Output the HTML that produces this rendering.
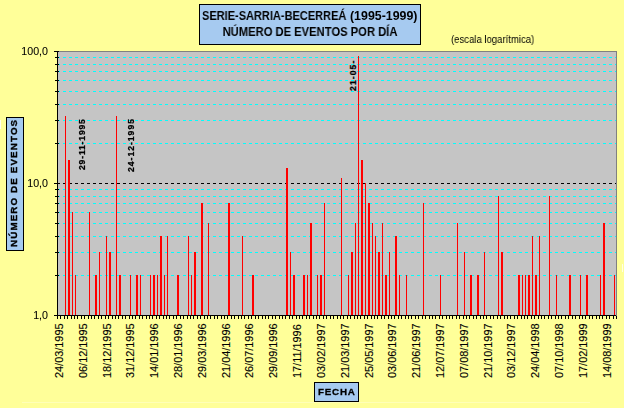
<!DOCTYPE html><html><head><meta charset="utf-8"><title>chart</title><style>
html,body{margin:0;padding:0;}
body{width:624px;height:408px;overflow:hidden;position:relative;background:#FFFF99;font-family:"Liberation Sans",sans-serif;color:#000;}
.t{position:absolute;white-space:nowrap;line-height:1;will-change:transform;}
.xl{position:absolute;white-space:nowrap;line-height:1;font-size:10.9px;-webkit-text-stroke:0.12px #000;transform-origin:0 0;transform:rotate(-90deg);}
.yl{font-size:10.67px;-webkit-text-stroke:0.08px #000;text-align:right;width:40px;left:8px;}
.box{position:absolute;background:#A6CAF0;border:1px solid #000;box-sizing:border-box;}
.dl{position:absolute;white-space:nowrap;line-height:1;font-weight:bold;font-size:8.6px;letter-spacing:0.9px;-webkit-text-stroke:0.25px #000;transform-origin:0 0;transform:rotate(-90deg);}

</style></head><body>
<svg width="624" height="408" viewBox="0 0 624 408" style="position:absolute;left:0;top:0" shape-rendering="crispEdges"><rect x="0" y="0" width="624" height="408" fill="#FFFF99"/><rect x="58" y="51" width="559" height="265" fill="#C5C5C5"/><rect x="58" y="51" width="559" height="1" fill="#808080"/><rect x="616" y="51" width="1" height="265" fill="#808080"/><line x1="59" y1="275.5" x2="616" y2="275.5" stroke="#00FFFF" stroke-width="1" stroke-dasharray="3 3" stroke-dashoffset="2"/><line x1="59" y1="252.5" x2="616" y2="252.5" stroke="#00FFFF" stroke-width="1" stroke-dasharray="3 3" stroke-dashoffset="2"/><line x1="59" y1="236.5" x2="616" y2="236.5" stroke="#00FFFF" stroke-width="1" stroke-dasharray="3 3" stroke-dashoffset="2"/><line x1="59" y1="223.5" x2="616" y2="223.5" stroke="#00FFFF" stroke-width="1" stroke-dasharray="3 3" stroke-dashoffset="2"/><line x1="59" y1="212.5" x2="616" y2="212.5" stroke="#00FFFF" stroke-width="1" stroke-dasharray="3 3" stroke-dashoffset="2"/><line x1="59" y1="203.5" x2="616" y2="203.5" stroke="#00FFFF" stroke-width="1" stroke-dasharray="3 3" stroke-dashoffset="2"/><line x1="59" y1="196.5" x2="616" y2="196.5" stroke="#00FFFF" stroke-width="1" stroke-dasharray="3 3" stroke-dashoffset="2"/><line x1="59" y1="189.5" x2="616" y2="189.5" stroke="#00FFFF" stroke-width="1" stroke-dasharray="3 3" stroke-dashoffset="2"/><line x1="59" y1="143.5" x2="616" y2="143.5" stroke="#00FFFF" stroke-width="1" stroke-dasharray="3 3" stroke-dashoffset="2"/><line x1="59" y1="120.5" x2="616" y2="120.5" stroke="#00FFFF" stroke-width="1" stroke-dasharray="3 3" stroke-dashoffset="2"/><line x1="59" y1="104.5" x2="616" y2="104.5" stroke="#00FFFF" stroke-width="1" stroke-dasharray="3 3" stroke-dashoffset="2"/><line x1="59" y1="91.5" x2="616" y2="91.5" stroke="#00FFFF" stroke-width="1" stroke-dasharray="3 3" stroke-dashoffset="2"/><line x1="59" y1="80.5" x2="616" y2="80.5" stroke="#00FFFF" stroke-width="1" stroke-dasharray="3 3" stroke-dashoffset="2"/><line x1="59" y1="71.5" x2="616" y2="71.5" stroke="#00FFFF" stroke-width="1" stroke-dasharray="3 3" stroke-dashoffset="2"/><line x1="59" y1="64.5" x2="616" y2="64.5" stroke="#00FFFF" stroke-width="1" stroke-dasharray="3 3" stroke-dashoffset="2"/><line x1="59" y1="57.5" x2="616" y2="57.5" stroke="#00FFFF" stroke-width="1" stroke-dasharray="3 3" stroke-dashoffset="2"/><line x1="59" y1="183.5" x2="616" y2="183.5" stroke="#000000" stroke-width="1" stroke-dasharray="3 3" stroke-dashoffset="2"/><rect x="65" y="116" width="1" height="199" fill="#FF0000"/><rect x="68" y="160" width="2" height="155" fill="#FF0000"/><rect x="72" y="212" width="1" height="103" fill="#FF0000"/><rect x="75" y="275" width="1" height="40" fill="#FF0000"/><rect x="89" y="212" width="1" height="103" fill="#FF0000"/><rect x="95" y="275" width="2" height="40" fill="#FF0000"/><rect x="99" y="252" width="1" height="63" fill="#FF0000"/><rect x="106" y="236" width="1" height="79" fill="#FF0000"/><rect x="109" y="252" width="2" height="63" fill="#FF0000"/><rect x="116" y="116" width="1" height="199" fill="#FF0000"/><rect x="119" y="275" width="2" height="40" fill="#FF0000"/><rect x="130" y="275" width="1" height="40" fill="#FF0000"/><rect x="136" y="275" width="2" height="40" fill="#FF0000"/><rect x="140" y="275" width="1" height="40" fill="#FF0000"/><rect x="150" y="275" width="1" height="40" fill="#FF0000"/><rect x="153" y="275" width="2" height="40" fill="#FF0000"/><rect x="157" y="275" width="1" height="40" fill="#FF0000"/><rect x="160" y="236" width="2" height="79" fill="#FF0000"/><rect x="164" y="275" width="1" height="40" fill="#FF0000"/><rect x="167" y="236" width="1" height="79" fill="#FF0000"/><rect x="177" y="275" width="2" height="40" fill="#FF0000"/><rect x="188" y="236" width="1" height="79" fill="#FF0000"/><rect x="191" y="275" width="1" height="40" fill="#FF0000"/><rect x="194" y="252" width="2" height="63" fill="#FF0000"/><rect x="201" y="203" width="2" height="112" fill="#FF0000"/><rect x="208" y="223" width="1" height="92" fill="#FF0000"/><rect x="228" y="203" width="2" height="112" fill="#FF0000"/><rect x="242" y="236" width="1" height="79" fill="#FF0000"/><rect x="252" y="275" width="2" height="40" fill="#FF0000"/><rect x="286" y="168" width="2" height="147" fill="#FF0000"/><rect x="290" y="252" width="1" height="63" fill="#FF0000"/><rect x="293" y="275" width="2" height="40" fill="#FF0000"/><rect x="303" y="275" width="2" height="40" fill="#FF0000"/><rect x="307" y="275" width="1" height="40" fill="#FF0000"/><rect x="310" y="223" width="2" height="92" fill="#FF0000"/><rect x="317" y="275" width="1" height="40" fill="#FF0000"/><rect x="320" y="275" width="2" height="40" fill="#FF0000"/><rect x="324" y="203" width="1" height="112" fill="#FF0000"/><rect x="341" y="178" width="1" height="137" fill="#FF0000"/><rect x="348" y="275" width="1" height="40" fill="#FF0000"/><rect x="351" y="252" width="2" height="63" fill="#FF0000"/><rect x="355" y="223" width="1" height="92" fill="#FF0000"/><rect x="358" y="56" width="1" height="259" fill="#FF0000"/><rect x="361" y="160" width="2" height="155" fill="#FF0000"/><rect x="365" y="183" width="1" height="132" fill="#FF0000"/><rect x="368" y="203" width="2" height="112" fill="#FF0000"/><rect x="372" y="223" width="1" height="92" fill="#FF0000"/><rect x="375" y="236" width="1" height="79" fill="#FF0000"/><rect x="378" y="252" width="2" height="63" fill="#FF0000"/><rect x="382" y="223" width="1" height="92" fill="#FF0000"/><rect x="385" y="275" width="2" height="40" fill="#FF0000"/><rect x="389" y="252" width="1" height="63" fill="#FF0000"/><rect x="395" y="236" width="2" height="79" fill="#FF0000"/><rect x="399" y="275" width="1" height="40" fill="#FF0000"/><rect x="406" y="275" width="1" height="40" fill="#FF0000"/><rect x="423" y="203" width="1" height="112" fill="#FF0000"/><rect x="440" y="275" width="1" height="40" fill="#FF0000"/><rect x="457" y="223" width="1" height="92" fill="#FF0000"/><rect x="464" y="252" width="1" height="63" fill="#FF0000"/><rect x="470" y="275" width="2" height="40" fill="#FF0000"/><rect x="477" y="275" width="2" height="40" fill="#FF0000"/><rect x="484" y="252" width="1" height="63" fill="#FF0000"/><rect x="498" y="196" width="1" height="119" fill="#FF0000"/><rect x="501" y="252" width="2" height="63" fill="#FF0000"/><rect x="518" y="275" width="2" height="40" fill="#FF0000"/><rect x="522" y="275" width="1" height="40" fill="#FF0000"/><rect x="525" y="275" width="1" height="40" fill="#FF0000"/><rect x="528" y="275" width="2" height="40" fill="#FF0000"/><rect x="532" y="236" width="1" height="79" fill="#FF0000"/><rect x="535" y="275" width="2" height="40" fill="#FF0000"/><rect x="539" y="236" width="1" height="79" fill="#FF0000"/><rect x="549" y="196" width="1" height="119" fill="#FF0000"/><rect x="556" y="275" width="1" height="40" fill="#FF0000"/><rect x="569" y="275" width="2" height="40" fill="#FF0000"/><rect x="580" y="275" width="1" height="40" fill="#FF0000"/><rect x="586" y="275" width="2" height="40" fill="#FF0000"/><rect x="600" y="275" width="1" height="40" fill="#FF0000"/><rect x="603" y="223" width="2" height="92" fill="#FF0000"/><rect x="614" y="275" width="1" height="40" fill="#FF0000"/><rect x="57" y="51" width="1" height="265" fill="#000"/><rect x="54" y="315" width="562" height="1" fill="#000"/><rect x="54" y="315" width="5" height="1" fill="#000"/><rect x="55" y="275" width="4" height="1" fill="#000"/><rect x="55" y="252" width="4" height="1" fill="#000"/><rect x="55" y="236" width="4" height="1" fill="#000"/><rect x="55" y="223" width="4" height="1" fill="#000"/><rect x="55" y="212" width="4" height="1" fill="#000"/><rect x="55" y="203" width="4" height="1" fill="#000"/><rect x="55" y="196" width="4" height="1" fill="#000"/><rect x="55" y="189" width="4" height="1" fill="#000"/><rect x="54" y="183" width="5" height="1" fill="#000"/><rect x="55" y="143" width="4" height="1" fill="#000"/><rect x="55" y="120" width="4" height="1" fill="#000"/><rect x="55" y="104" width="4" height="1" fill="#000"/><rect x="55" y="91" width="4" height="1" fill="#000"/><rect x="55" y="80" width="4" height="1" fill="#000"/><rect x="55" y="71" width="4" height="1" fill="#000"/><rect x="55" y="64" width="4" height="1" fill="#000"/><rect x="55" y="57" width="4" height="1" fill="#000"/><rect x="54" y="51" width="5" height="1" fill="#000"/><rect x="57" y="315" width="1" height="4" fill="#000"/><rect x="60" y="315" width="1" height="4" fill="#000"/><rect x="64" y="315" width="1" height="4" fill="#000"/><rect x="67" y="315" width="1" height="4" fill="#000"/><rect x="71" y="315" width="1" height="4" fill="#000"/><rect x="74" y="315" width="1" height="4" fill="#000"/><rect x="77" y="315" width="1" height="4" fill="#000"/><rect x="81" y="315" width="1" height="4" fill="#000"/><rect x="84" y="315" width="1" height="4" fill="#000"/><rect x="88" y="315" width="1" height="4" fill="#000"/><rect x="91" y="315" width="1" height="4" fill="#000"/><rect x="94" y="315" width="1" height="4" fill="#000"/><rect x="98" y="315" width="1" height="4" fill="#000"/><rect x="101" y="315" width="1" height="4" fill="#000"/><rect x="105" y="315" width="1" height="4" fill="#000"/><rect x="108" y="315" width="1" height="4" fill="#000"/><rect x="112" y="315" width="1" height="4" fill="#000"/><rect x="115" y="315" width="1" height="4" fill="#000"/><rect x="118" y="315" width="1" height="4" fill="#000"/><rect x="122" y="315" width="1" height="4" fill="#000"/><rect x="125" y="315" width="1" height="4" fill="#000"/><rect x="129" y="315" width="1" height="4" fill="#000"/><rect x="132" y="315" width="1" height="4" fill="#000"/><rect x="135" y="315" width="1" height="4" fill="#000"/><rect x="139" y="315" width="1" height="4" fill="#000"/><rect x="142" y="315" width="1" height="4" fill="#000"/><rect x="146" y="315" width="1" height="4" fill="#000"/><rect x="149" y="315" width="1" height="4" fill="#000"/><rect x="152" y="315" width="1" height="4" fill="#000"/><rect x="156" y="315" width="1" height="4" fill="#000"/><rect x="159" y="315" width="1" height="4" fill="#000"/><rect x="163" y="315" width="1" height="4" fill="#000"/><rect x="166" y="315" width="1" height="4" fill="#000"/><rect x="169" y="315" width="1" height="4" fill="#000"/><rect x="173" y="315" width="1" height="4" fill="#000"/><rect x="176" y="315" width="1" height="4" fill="#000"/><rect x="180" y="315" width="1" height="4" fill="#000"/><rect x="183" y="315" width="1" height="4" fill="#000"/><rect x="187" y="315" width="1" height="4" fill="#000"/><rect x="190" y="315" width="1" height="4" fill="#000"/><rect x="193" y="315" width="1" height="4" fill="#000"/><rect x="197" y="315" width="1" height="4" fill="#000"/><rect x="200" y="315" width="1" height="4" fill="#000"/><rect x="204" y="315" width="1" height="4" fill="#000"/><rect x="207" y="315" width="1" height="4" fill="#000"/><rect x="210" y="315" width="1" height="4" fill="#000"/><rect x="214" y="315" width="1" height="4" fill="#000"/><rect x="217" y="315" width="1" height="4" fill="#000"/><rect x="221" y="315" width="1" height="4" fill="#000"/><rect x="224" y="315" width="1" height="4" fill="#000"/><rect x="227" y="315" width="1" height="4" fill="#000"/><rect x="231" y="315" width="1" height="4" fill="#000"/><rect x="234" y="315" width="1" height="4" fill="#000"/><rect x="238" y="315" width="1" height="4" fill="#000"/><rect x="241" y="315" width="1" height="4" fill="#000"/><rect x="244" y="315" width="1" height="4" fill="#000"/><rect x="248" y="315" width="1" height="4" fill="#000"/><rect x="251" y="315" width="1" height="4" fill="#000"/><rect x="255" y="315" width="1" height="4" fill="#000"/><rect x="258" y="315" width="1" height="4" fill="#000"/><rect x="262" y="315" width="1" height="4" fill="#000"/><rect x="265" y="315" width="1" height="4" fill="#000"/><rect x="268" y="315" width="1" height="4" fill="#000"/><rect x="272" y="315" width="1" height="4" fill="#000"/><rect x="275" y="315" width="1" height="4" fill="#000"/><rect x="279" y="315" width="1" height="4" fill="#000"/><rect x="282" y="315" width="1" height="4" fill="#000"/><rect x="285" y="315" width="1" height="4" fill="#000"/><rect x="289" y="315" width="1" height="4" fill="#000"/><rect x="292" y="315" width="1" height="4" fill="#000"/><rect x="296" y="315" width="1" height="4" fill="#000"/><rect x="299" y="315" width="1" height="4" fill="#000"/><rect x="302" y="315" width="1" height="4" fill="#000"/><rect x="306" y="315" width="1" height="4" fill="#000"/><rect x="309" y="315" width="1" height="4" fill="#000"/><rect x="313" y="315" width="1" height="4" fill="#000"/><rect x="316" y="315" width="1" height="4" fill="#000"/><rect x="319" y="315" width="1" height="4" fill="#000"/><rect x="323" y="315" width="1" height="4" fill="#000"/><rect x="326" y="315" width="1" height="4" fill="#000"/><rect x="330" y="315" width="1" height="4" fill="#000"/><rect x="333" y="315" width="1" height="4" fill="#000"/><rect x="337" y="315" width="1" height="4" fill="#000"/><rect x="340" y="315" width="1" height="4" fill="#000"/><rect x="343" y="315" width="1" height="4" fill="#000"/><rect x="347" y="315" width="1" height="4" fill="#000"/><rect x="350" y="315" width="1" height="4" fill="#000"/><rect x="354" y="315" width="1" height="4" fill="#000"/><rect x="357" y="315" width="1" height="4" fill="#000"/><rect x="360" y="315" width="1" height="4" fill="#000"/><rect x="364" y="315" width="1" height="4" fill="#000"/><rect x="367" y="315" width="1" height="4" fill="#000"/><rect x="371" y="315" width="1" height="4" fill="#000"/><rect x="374" y="315" width="1" height="4" fill="#000"/><rect x="377" y="315" width="1" height="4" fill="#000"/><rect x="381" y="315" width="1" height="4" fill="#000"/><rect x="384" y="315" width="1" height="4" fill="#000"/><rect x="388" y="315" width="1" height="4" fill="#000"/><rect x="391" y="315" width="1" height="4" fill="#000"/><rect x="394" y="315" width="1" height="4" fill="#000"/><rect x="398" y="315" width="1" height="4" fill="#000"/><rect x="401" y="315" width="1" height="4" fill="#000"/><rect x="405" y="315" width="1" height="4" fill="#000"/><rect x="408" y="315" width="1" height="4" fill="#000"/><rect x="411" y="315" width="1" height="4" fill="#000"/><rect x="415" y="315" width="1" height="4" fill="#000"/><rect x="418" y="315" width="1" height="4" fill="#000"/><rect x="422" y="315" width="1" height="4" fill="#000"/><rect x="425" y="315" width="1" height="4" fill="#000"/><rect x="429" y="315" width="1" height="4" fill="#000"/><rect x="432" y="315" width="1" height="4" fill="#000"/><rect x="435" y="315" width="1" height="4" fill="#000"/><rect x="439" y="315" width="1" height="4" fill="#000"/><rect x="442" y="315" width="1" height="4" fill="#000"/><rect x="446" y="315" width="1" height="4" fill="#000"/><rect x="449" y="315" width="1" height="4" fill="#000"/><rect x="452" y="315" width="1" height="4" fill="#000"/><rect x="456" y="315" width="1" height="4" fill="#000"/><rect x="459" y="315" width="1" height="4" fill="#000"/><rect x="463" y="315" width="1" height="4" fill="#000"/><rect x="466" y="315" width="1" height="4" fill="#000"/><rect x="469" y="315" width="1" height="4" fill="#000"/><rect x="473" y="315" width="1" height="4" fill="#000"/><rect x="476" y="315" width="1" height="4" fill="#000"/><rect x="480" y="315" width="1" height="4" fill="#000"/><rect x="483" y="315" width="1" height="4" fill="#000"/><rect x="486" y="315" width="1" height="4" fill="#000"/><rect x="490" y="315" width="1" height="4" fill="#000"/><rect x="493" y="315" width="1" height="4" fill="#000"/><rect x="497" y="315" width="1" height="4" fill="#000"/><rect x="500" y="315" width="1" height="4" fill="#000"/><rect x="504" y="315" width="1" height="4" fill="#000"/><rect x="507" y="315" width="1" height="4" fill="#000"/><rect x="510" y="315" width="1" height="4" fill="#000"/><rect x="514" y="315" width="1" height="4" fill="#000"/><rect x="517" y="315" width="1" height="4" fill="#000"/><rect x="521" y="315" width="1" height="4" fill="#000"/><rect x="524" y="315" width="1" height="4" fill="#000"/><rect x="527" y="315" width="1" height="4" fill="#000"/><rect x="531" y="315" width="1" height="4" fill="#000"/><rect x="534" y="315" width="1" height="4" fill="#000"/><rect x="538" y="315" width="1" height="4" fill="#000"/><rect x="541" y="315" width="1" height="4" fill="#000"/><rect x="544" y="315" width="1" height="4" fill="#000"/><rect x="548" y="315" width="1" height="4" fill="#000"/><rect x="551" y="315" width="1" height="4" fill="#000"/><rect x="555" y="315" width="1" height="4" fill="#000"/><rect x="558" y="315" width="1" height="4" fill="#000"/><rect x="561" y="315" width="1" height="4" fill="#000"/><rect x="565" y="315" width="1" height="4" fill="#000"/><rect x="568" y="315" width="1" height="4" fill="#000"/><rect x="572" y="315" width="1" height="4" fill="#000"/><rect x="575" y="315" width="1" height="4" fill="#000"/><rect x="579" y="315" width="1" height="4" fill="#000"/><rect x="582" y="315" width="1" height="4" fill="#000"/><rect x="585" y="315" width="1" height="4" fill="#000"/><rect x="589" y="315" width="1" height="4" fill="#000"/><rect x="592" y="315" width="1" height="4" fill="#000"/><rect x="596" y="315" width="1" height="4" fill="#000"/><rect x="599" y="315" width="1" height="4" fill="#000"/><rect x="602" y="315" width="1" height="4" fill="#000"/><rect x="606" y="315" width="1" height="4" fill="#000"/><rect x="609" y="315" width="1" height="4" fill="#000"/><rect x="613" y="315" width="1" height="4" fill="#000"/><rect x="616" y="316" width="1" height="3" fill="#000"/><rect x="22" y="402" width="568" height="1" fill="#FFFFB8"/><rect x="0" y="120" width="1" height="9" fill="#FFFFEE"/><rect x="622" y="264" width="1" height="8" fill="#FFFFE6"/></svg>
<div class="box" style="left:199px;top:4px;width:222px;height:41px;"></div>
<div class="t" style="left:201.5px;top:10.2px;font-weight:bold;font-size:12.2px;transform-origin:0 0;transform:scaleX(0.903);">SERIE-SARRIA-BECERREÁ</div>
<div class="t" style="left:350.2px;top:10.2px;font-weight:bold;font-size:12.2px;transform-origin:0 0;transform:scaleX(1.015);">(1995-1999)</div>
<div class="t" style="left:109.75px;width:400px;text-align:center;top:25.5px;font-weight:bold;font-size:12px;transform:scaleX(0.934);">NÚMERO DE EVENTOS POR DÍA</div>
<div class="t" style="left:451.3px;top:33.5px;font-size:10.67px;transform-origin:0 0;transform:scaleX(0.895);">(escala logarítmica)</div>
<div class="t yl" style="top:46px;">100,0</div>
<div class="t yl" style="top:178px;">10,0</div>
<div class="t yl" style="top:310px;">1,0</div>
<div class="box" style="left:6px;top:117px;width:18px;height:134px;"></div>
<div class="t" style="left:8.9px;top:247px;font-weight:bold;font-size:9.8px;letter-spacing:1.12px;-webkit-text-stroke:0.3px #000;transform-origin:0 0;transform:rotate(-90deg);">NÚMERO DE EVENTOS</div>
<div class="box" style="left:314px;top:382px;width:45px;height:20px;"></div>
<div class="t" style="left:317.6px;top:386.8px;font-weight:bold;font-size:9.8px;letter-spacing:0.8px;-webkit-text-stroke:0.3px #000;">FECHA</div>
<div class="xl" style="left:53.90px;top:377.5px;">24/03/1995</div>
<div class="xl" style="left:77.72px;top:377.5px;">06/12/1995</div>
<div class="xl" style="left:101.54px;top:377.5px;">18/12/1995</div>
<div class="xl" style="left:125.36px;top:377.5px;">31/12/1995</div>
<div class="xl" style="left:149.18px;top:377.5px;">14/01/1996</div>
<div class="xl" style="left:173.00px;top:377.5px;">28/01/1996</div>
<div class="xl" style="left:196.82px;top:377.5px;">29/03/1996</div>
<div class="xl" style="left:220.64px;top:377.5px;">21/04/1996</div>
<div class="xl" style="left:244.46px;top:377.5px;">26/07/1996</div>
<div class="xl" style="left:268.28px;top:377.5px;">29/09/1996</div>
<div class="xl" style="left:292.10px;top:377.5px;">17/11/1996</div>
<div class="xl" style="left:315.92px;top:377.5px;">03/02/1997</div>
<div class="xl" style="left:339.74px;top:377.5px;">21/03/1997</div>
<div class="xl" style="left:363.56px;top:377.5px;">25/05/1997</div>
<div class="xl" style="left:387.38px;top:377.5px;">03/06/1997</div>
<div class="xl" style="left:411.20px;top:377.5px;">21/06/1997</div>
<div class="xl" style="left:435.02px;top:377.5px;">12/07/1997</div>
<div class="xl" style="left:458.84px;top:377.5px;">07/08/1997</div>
<div class="xl" style="left:482.66px;top:377.5px;">21/10/1997</div>
<div class="xl" style="left:506.48px;top:377.5px;">03/12/1997</div>
<div class="xl" style="left:530.30px;top:377.5px;">24/04/1998</div>
<div class="xl" style="left:554.12px;top:377.5px;">07/10/1998</div>
<div class="xl" style="left:577.94px;top:377.5px;">17/02/1999</div>
<div class="xl" style="left:601.76px;top:377.5px;">14/08/1999</div>
<div class="dl" style="left:77.7px;top:170px;letter-spacing:0.82px;">29-11-1995</div>
<div class="dl" style="left:126.7px;top:171.7px;letter-spacing:1.0px;">24-12-1995</div>
<div class="dl" style="left:348.7px;top:91.3px;letter-spacing:1.1px;">21-05-</div>
</body></html>
